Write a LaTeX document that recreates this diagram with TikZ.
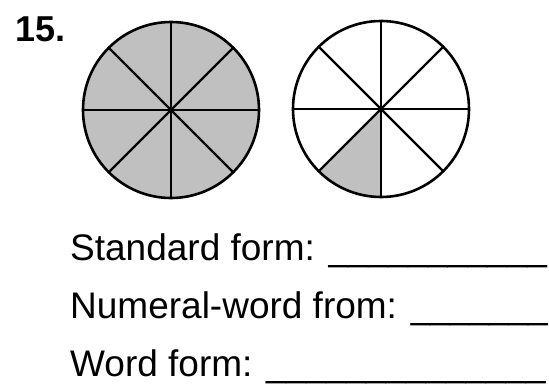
\documentclass[tikz,border=0pt]{standalone}
\usepackage{fontspec}
\usepackage{graphicx}
\setmainfont{Liberation Sans}
\definecolor{pie}{RGB}{192,192,192}
\begin{document}
\begin{tikzpicture}[x=1pt,y=1pt,
  rim/.style={line width=2.6pt,draw=black},
  spoke/.style={line width=2.3pt,draw=black},
  lbl/.style={anchor=base west,inner sep=0pt,font=\fontsize{37}{44}\selectfont},
  numlbl/.style={anchor=base west,inner sep=0pt,font=\fontsize{36}{42}\selectfont\bfseries}]
\useasboundingbox (0,0) rectangle (549,384);
\fill[white] (0,0) rectangle (549,384);
% number
\node[numlbl] (num) at (15,343) {15.};
% circle 1 (fully shaded)
\coordinate (c1) at (171,274);
\fill[pie] (c1) circle[radius=88];
\foreach \a in {0,45,...,315} {\draw[spoke] (c1) -- ++(\a:88);}
\draw[rim] (c1) circle[radius=88];
% circle 2 (one eighth shaded)
\coordinate (c2) at (381,275);
\fill[pie] (c2) -- ++(225:88) arc[start angle=225,end angle=270,radius=88] -- cycle;
\foreach \a in {0,45,...,315} {\draw[spoke] (c2) -- ++(\a:88);}
\draw[rim] (c2) circle[radius=88];
% text lines
\node[lbl] (std) at (70,124) {Standard form: \scalebox{0.965}[1]{\_\_\_\_\_\_\_\_\_\_\_}};
\node[lbl] (numw) at (70,66) {Numeral-word from: \scalebox{0.95}[1]{\_\_\_\_\_\_\_}};
\node[lbl] (word) at (70,8) {Word form: \scalebox{0.97}[1]{\_\_\_\_\_\_\_\_\_\_\_\_\_\_}};
\end{tikzpicture}
\end{document}
